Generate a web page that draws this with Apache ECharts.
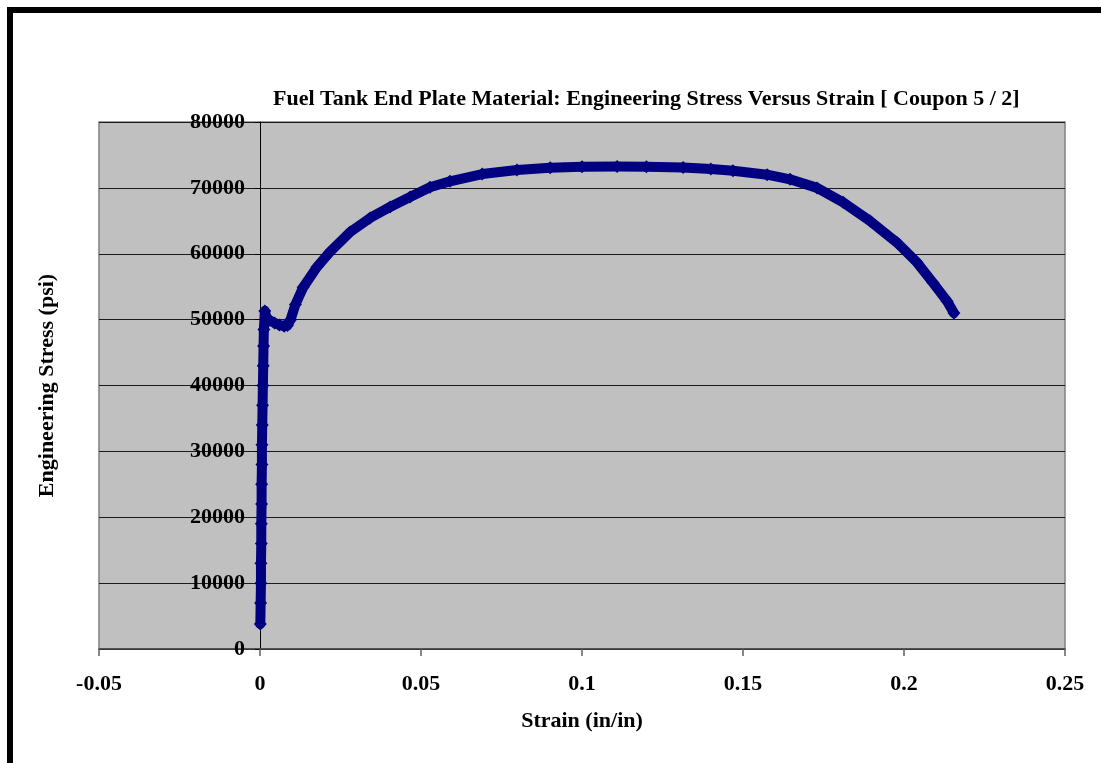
<!DOCTYPE html>
<html>
<head>
<meta charset="utf-8">
<style>
  html, body { margin: 0; padding: 0; background: #ffffff; }
  #chart { width: 1101px; height: 763px; }
</style>
<script src="https://cdn.jsdelivr.net/npm/echarts@6/dist/echarts.min.js"></script>
</head>
<body>
<div id="chart"></div>
<script>
// Coupon 5 / 2 tensile test: strain (in/in) and engineering stress (psi)
const strain = [
  0.0001, 0.0002, 0.0003, 0.0003, 0.0004, 0.0004, 0.0005, 0.0005, 0.0006, 0.0006,
  0.0007, 0.0008, 0.0009, 0.0010, 0.0011, 0.0012, 0.0015,
  0.0020, 0.0030, 0.0045, 0.0060, 0.0075, 0.0085, 0.0095, 0.0110,
  0.0134, 0.0177, 0.0217, 0.0280, 0.0342, 0.0404, 0.0466, 0.0528, 0.0590,
  0.0690, 0.0798, 0.0901, 0.1000, 0.1109, 0.1200, 0.1314, 0.1400, 0.1469,
  0.1575, 0.1646, 0.1730, 0.1811, 0.1894, 0.1978, 0.2040, 0.2090, 0.2134, 0.2155
];
const stress = [
  3800, 7000, 10000, 13000, 16000, 19000, 22000, 25000, 28000, 31000,
  34000, 37000, 40000, 43000, 46000, 48500, 51300,
  50300, 49900, 49500, 49200, 49000, 49100, 50000, 52300,
  54900, 57990, 60270, 63300, 65430, 67100, 68600, 70100, 71000,
  72100, 72700, 73050, 73200, 73250, 73200, 73100, 72850, 72600,
  72000, 71300, 70000, 67800, 65000, 61700, 58700, 55600, 52800, 51000
];

const xTicks = { min: -0.05, max: 0.25, step: 0.05 };
const yTicks = { min: 0, max: 80000, step: 10000 };

const titleText = 'Fuel Tank End Plate Material: Engineering Stress Versus Strain [ Coupon 5 / 2]';
const xName = 'Strain (in/in)';
const yName = 'Engineering Stress (psi)';

const points = strain.map((s, i) => [s, stress[i]]);
const serif = "'Liberation Serif', 'Times New Roman', serif";

// plot box in pixels
const gridBox = { left: 99, right: 36, top: 122, bottom: 114 };
const plotWidth = 1101 - gridBox.left - gridBox.right;
// the value axis sits on strain = 0, so shift it inward from the plot's left edge
const yAxisShift = -plotWidth * (0 - xTicks.min) / (xTicks.max - xTicks.min);

const chart = echarts.init(document.getElementById('chart'), null, { renderer: 'canvas' });
chart.setOption({
  backgroundColor: '#ffffff',
  animation: false,
  title: {
    text: titleText,
    left: 268,
    top: 83,
    textStyle: { fontFamily: serif, fontWeight: 'bold', fontSize: 22, color: '#000' }
  },
  graphic: [
    { type: 'rect', shape: { x: 7, y: 7, width: 1094, height: 6 }, style: { fill: '#000' } },
    { type: 'rect', shape: { x: 7, y: 7, width: 6, height: 756 }, style: { fill: '#000' } }
  ],
  grid: {
    left: gridBox.left, right: gridBox.right, top: gridBox.top, bottom: gridBox.bottom,
    containLabel: false, outerBoundsMode: 'none',
    show: true, backgroundColor: '#c0c0c0', borderColor: '#808080', borderWidth: 1.5
  },
  xAxis: {
    type: 'value',
    min: xTicks.min, max: xTicks.max, interval: xTicks.step,
    name: xName, nameLocation: 'middle', nameGap: 61,
    nameTextStyle: { fontFamily: serif, fontWeight: 'bold', fontSize: 22, color: '#000' },
    axisLine: { onZero: false, lineStyle: { color: '#404040', width: 1.5 } },
    axisTick: { show: true, length: 7, lineStyle: { color: '#606060', width: 1.5 } },
    axisLabel: { margin: 24, fontFamily: serif, fontWeight: 'bold', fontSize: 22, color: '#000' },
    splitLine: { show: false }
  },
  yAxis: {
    type: 'value',
    position: 'left',
    offset: yAxisShift,
    min: yTicks.min, max: yTicks.max, interval: yTicks.step,
    name: yName, nameLocation: 'middle', nameGap: 202,
    nameTextStyle: { fontFamily: serif, fontWeight: 'bold', fontSize: 22, color: '#000' },
    axisLine: { show: true, onZero: false, lineStyle: { color: '#000', width: 1 } },
    axisTick: { show: true, length: 5, lineStyle: { color: '#000', width: 1 } },
    axisLabel: {
      margin: 15, fontFamily: serif, fontWeight: 'bold', fontSize: 22, color: '#000',
      formatter: v => String(v)
    },
    splitLine: { show: true, lineStyle: { color: '#1a1a1a', width: 1 } }
  },
  series: [{
    type: 'line',
    data: points,
    symbol: 'diamond',
    symbolSize: 13,
    showSymbol: true,
    itemStyle: { color: '#000080' },
    lineStyle: { color: '#000080', width: 10, join: 'round', cap: 'round' }
  }]
});
</script>
</body>
</html>
